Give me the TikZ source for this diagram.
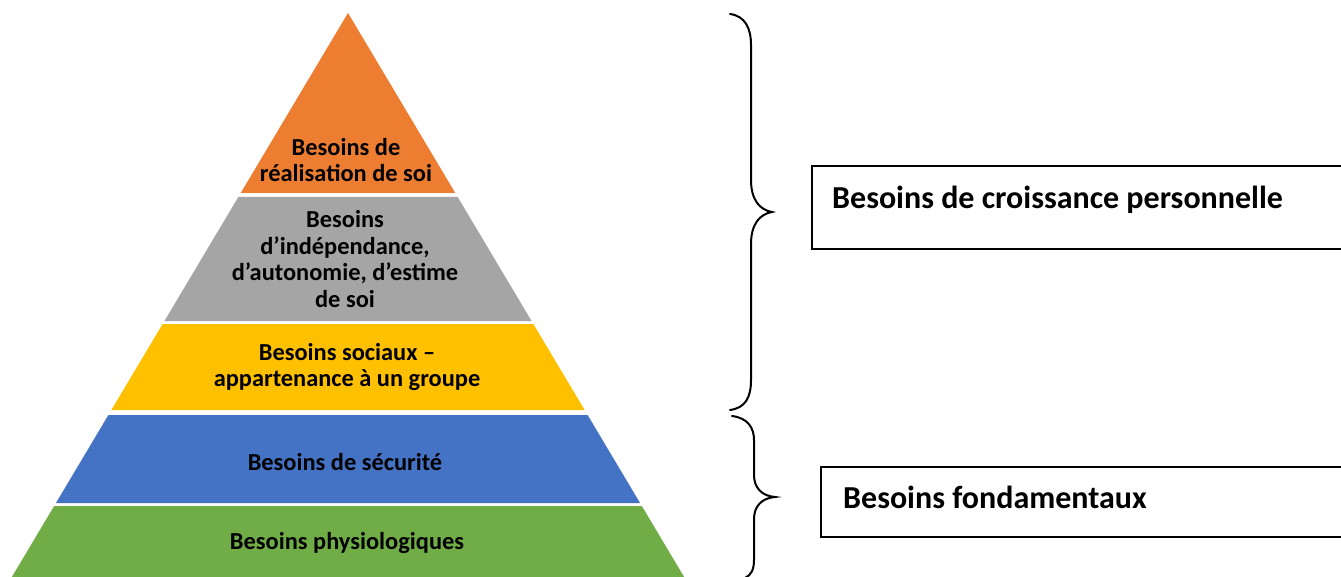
\documentclass[tikz,border=0pt]{standalone}
\usepackage{fontspec}
\setmainfont{Carlito}
\definecolor{orng}{HTML}{ED7D31}
\definecolor{gry}{HTML}{A5A5A5}
\definecolor{ylw}{HTML}{FFC000}
\definecolor{blu}{HTML}{4472C4}
\definecolor{grn}{HTML}{70AD47}
\tikzset{
  layertext/.style={align=center, font=\bfseries\fontsize{24.4}{26.5}\selectfont, text=black, inner sep=0pt},
  sidetext/.style={anchor=base west, font=\bfseries\fontsize{32}{36}\selectfont, text=black, inner sep=0pt},
  sidebox/.style={draw=black, line width=1.6pt, fill=white},
  bracestyle/.style={draw=black, line width=2pt, line cap=round}
}
\begin{document}
\begin{tikzpicture}[x=1pt, y=-1pt]
\useasboundingbox (0,0) rectangle (1341,577);
\clip (0,0) rectangle (1341,577);
\fill[white] (0,0) rectangle (1341,577);
% pyramid bands
\foreach \ya/\yb/\col in {13/193/orng, 197/321/gry, 324/410/ylw, 415/503/blu, 506/577/grn}{
  \fill[\col] ({348-0.596*(\ya-13)},\ya) -- ({348+0.596*(\ya-13)},\ya)
     -- ({348+0.596*(\yb-13)},\yb) -- ({348-0.596*(\yb-13)},\yb) -- cycle;
}
\node[layertext] (l5) at (346,160) {Besoins de\\réalisation de soi};
\node[layertext] (l4) at (345,259) {Besoins\\d’indépendance,\\d’autonomie, d’estime\\de soi};
\node[layertext] (l3) at (347,367) {Besoins sociaux –\\appartenance à un groupe};
\node[layertext] (l2) at (345,462) {Besoins de sécurité};
\node[layertext] (l1) at (347,543) {Besoins physiologiques};
% braces
\draw[bracestyle] (730,14) .. controls (745,16) and (751,28) .. (751,45) -- (751,180)
  .. controls (751,200) and (760,210) .. (772,212)
  .. controls (760,214) and (751,224) .. (751,244) -- (751,380)
  .. controls (751,398) and (745,408) .. (730,410);
\draw[bracestyle] (732,416) .. controls (748,418) and (754,428) .. (754,440) -- (754,475)
  .. controls (754,488) and (762,496) .. (775,497)
  .. controls (762,498) and (754,506) .. (754,519) -- (754,560)
  .. controls (754,570) and (751,575) .. (745,578);
% side boxes
\draw[sidebox] (812,166) rectangle (1360,249);
\node[sidetext] (g) at (832,209) {Besoins de croissance personnelle};
\draw[sidebox] (821,467) rectangle (1360,537);
\node[sidetext] (f) at (843,508) {Besoins fondamentaux};
\end{tikzpicture}
\end{document}
